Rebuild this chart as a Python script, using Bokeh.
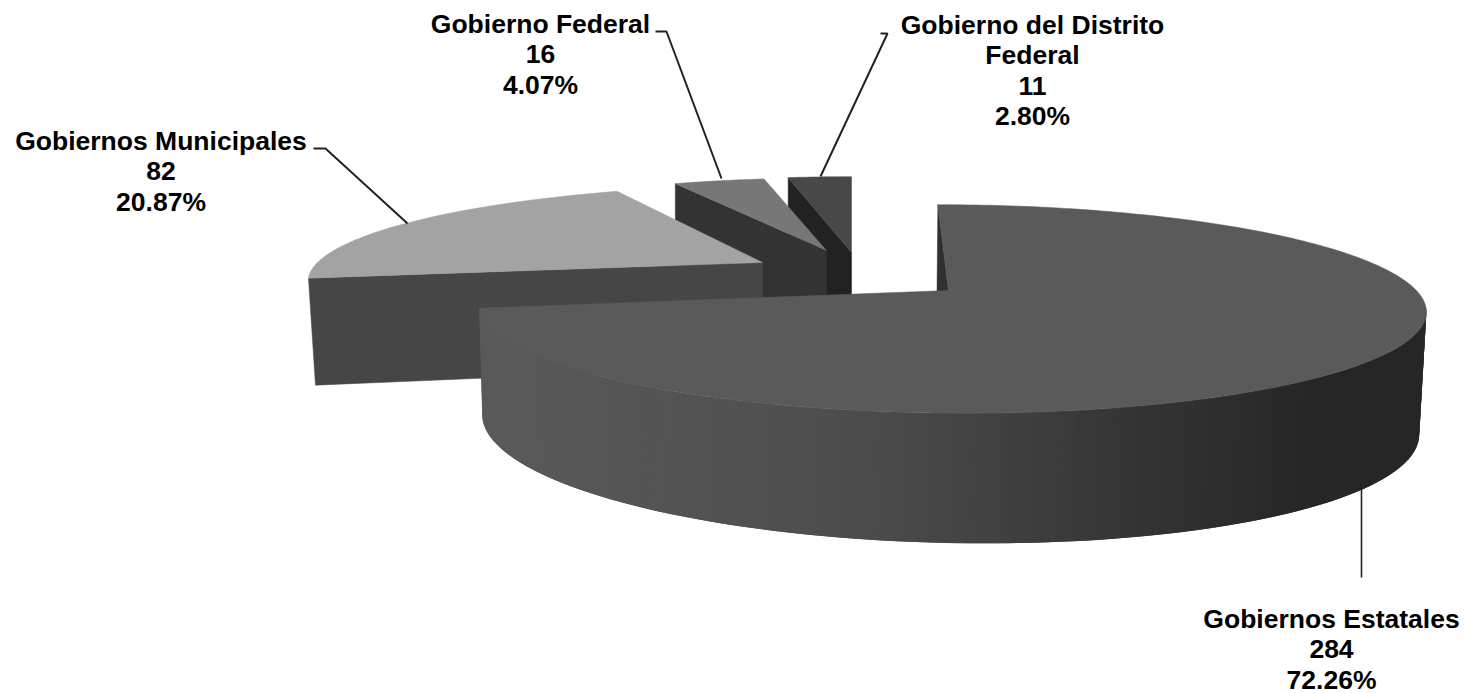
import numpy as np
from bokeh.plotting import figure
from bokeh.core.properties import value
from bokeh.embed import file_html
from bokeh.resources import INLINE

# ---- data
categories = ["Gobiernos Estatales", "Gobiernos Municipales", "Gobierno Federal", "Gobierno del Distrito\nFederal"]
counts = [284, 82, 16, 11]
percents = [72.26, 20.87, 4.07, 2.80]

# ---- styles
top_colors = ["#5a5a5a", "#a3a3a3", "#777777", "#484848"]
wall_colors = ["#303030", "#464646", "#333333", "#222222"]

# ---- projection of each exploded slice: tip x, y, a, b, k, m, s, tilt
rim = [
    dict(cx=948, cy=290, a=466, b=101, k=.177, m=.004, s=12.5, t=0),
    dict(cx=762, cy=262, a=445, b=89, k=.15, m=0, s=-23, t=0),
    dict(cx=826, cy=250, a=427, b=87, k=.2, m=0, s=0, t=0),
    dict(cx=851, cy=252, a=433, b=91, k=.2, m=0, s=0, t=0),
]
main_lower = dict(cx=948, cy=403, a=461, b=115, k=.177, m=0, s=12, t=7)
depths = [(0, 100), (7, 107), (0, 110), (0, 110)]

# shading of the round wall, by screen x
shade_x = [480, 640, 800, 960, 1100, 1300, 1420]
shade_v = [0x5a, 0x55, 0x50, 0x45, 0x38, 0x27, 0x26]

label_x = [1331, 160.5, 540, 1032]
label_y = [618, 140, 23, 24]
line_gap = 30.5
leaders = [
    ([1361, 1361], [484, 577], 1.6),
    ([313, 325, 407], [148, 148, 223], 2),
    ([655, 666, 721], [31, 31, 178], 2),
    ([880, 887, 820], [33, 33, 176], 2),
]


def project(g, deg):
    th = np.radians(np.asarray(deg, dtype=float))
    u, v = np.sin(th), -np.cos(th)
    w = 1 - g["k"] * v - g["m"] * u
    return g["cx"] + (g["a"] * u + g["s"] * v) / w, g["cy"] + g["b"] * v / w + g["t"] * u


edges = np.concatenate([[0], np.cumsum(percents) / sum(percents) * 360])

p = figure(width=1467, height=693, x_range=(0, 1467), y_range=(693, 0),
           x_axis_location=None, y_axis_location=None, toolbar_location=None,
           output_backend="svg", min_border=0, outline_line_color=None,
           background_fill_color="white", border_fill_color="white")
p.grid.visible = False


def poly(xs, ys, color):
    p.patch(list(xs), list(ys), fill_color=color, line_color=color, line_width=0.5)


# back slices, far to near
for i in [3, 2, 1]:
    g = rim[i]
    a0, a1 = edges[i], edges[i + 1]
    th = np.linspace(a0, a1, 40)
    x, y = project(g, th)
    ax, ay = x[0], y[0]
    dx, dy = depths[i]
    poly([ax, g["cx"], g["cx"], ax + dx], [ay, g["cy"], g["cy"] + dy - 3, ay + dy], wall_colors[i])
    poly(np.r_[g["cx"], x], np.r_[g["cy"], y], top_colors[i])

# main slice: inner wall, round wall, top
g = rim[0]
x0, y0 = project(g, 0)
poly([x0, g["cx"], g["cx"], x0 - 1], [y0, g["cy"], g["cy"] + 110, y0 + 100], wall_colors[0])

th = np.linspace(edges[1], 100, 120)      # left to right, each piece overlaps the next
ux, uy = project(g, th)
lx, ly = project(main_lower, th)
for j in range(len(th) - 1):
    k = min(j + 2, len(th) - 1)
    level = int(np.interp((lx[j] + lx[j + 1]) / 2, shade_x, shade_v))
    col = "#%02x%02x%02x" % (level, level, level)
    p.patch([ux[j], ux[k], lx[k], lx[j]], [uy[j], uy[k], ly[k], ly[j]],
            fill_color=col, line_color=None)

th = np.linspace(edges[0], edges[1], 240)
x, y = project(g, th)
poly(np.r_[g["cx"], x], np.r_[g["cy"], y], top_colors[0])

# leaders
for lxs, lys, lw in leaders:
    p.line(lxs, lys, line_color="#222222", line_width=lw)

# labels
tx, ty, tt = [], [], []
for i, c in enumerate(categories):
    lines = c.split("\n") + [str(counts[i]), f"{percents[i]:.2f}%"]
    for n, s in enumerate(lines):
        tx.append(label_x[i])
        ty.append(label_y[i] + n * line_gap)
        tt.append(s)
p.text(tx, ty, text=tt, text_align="center", text_baseline="middle",
       text_font=value("Liberation Sans"), text_font_style="bold",
       text_font_size="26.5px", text_color="black")

open("out.html", "w").write(file_html(p, INLINE))
